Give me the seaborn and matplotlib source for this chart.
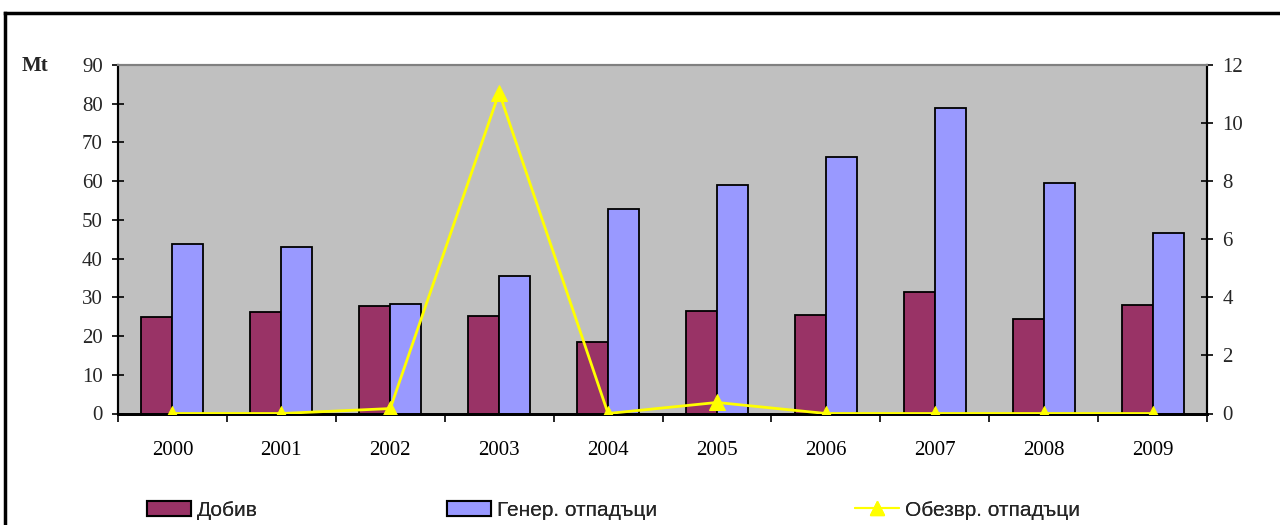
import numpy as np
import pandas as pd
import matplotlib
matplotlib.use("Agg")
import matplotlib.pyplot as plt
from matplotlib.lines import Line2D
import seaborn as sns

# ---------------- data ----------------
years = ["2000", "2001", "2002", "2003", "2004", "2005", "2006", "2007", "2008", "2009"]
dobiv = [24.9, 26.3, 27.8, 25.3, 18.5, 26.4, 25.4, 31.3, 24.5, 27.9]
gener = [43.9, 42.9, 28.3, 35.6, 52.7, 59.1, 66.3, 78.8, 59.6, 46.7]
obezvr = [0.0, 0.0, 0.17, 11.05, 0.0, 0.38, 0.0, 0.0, 0.0, 0.0]
series_names = ["Добив", "Генер. отпадъци", "Обезвр. отпадъци"]
left_ticks = list(range(0, 91, 10))
right_ticks = list(range(0, 13, 2))
unit_label = "Mt"

bar_colors = ["#993366", "#9999FF"]
line_color = "#FFFF00"

df = pd.DataFrame({
    "year": years * 2,
    "value": dobiv + gener,
    "series": [series_names[0]] * len(years) + [series_names[1]] * len(years),
})

sns.set_theme(style="white")
plt.rcParams["font.family"] = ["Liberation Serif", "DejaVu Serif"]

fig = plt.figure(figsize=(12.8, 5.25), dpi=100)
ax = fig.add_axes([118 / 1280, 1 - 413.5 / 525, (1207 - 118) / 1280, (413.5 - 65) / 525])
ax.set_facecolor("#C0C0C0")

sns.barplot(data=df, x="year", y="value", hue="series", order=years,
            hue_order=series_names[:2], palette=bar_colors, width=0.57, gap=0,
            edgecolor="black", linewidth=1.3, saturation=1, ax=ax, legend=False)

ax.set_xlim(-0.5, len(years) - 0.5)
ax.set_ylim(0, 90)
ax.set_yticks(left_ticks)
ax.set_yticklabels([str(t) for t in left_ticks])
ax.set_xlabel("")
ax.set_ylabel("")

# x ticks: marks at category borders, labels at centres
ax.set_xticks(np.arange(-0.5, len(years), 1.0))
ax.set_xticklabels([])
ax.set_xticks(np.arange(len(years)), minor=True)
ax.set_xticklabels(years, minor=True)
ax.tick_params(axis="x", which="major", direction="out", length=6, width=1.2, color="black", bottom=True)
ax.tick_params(axis="x", which="minor", length=0, pad=20, labelsize=15, colors="black", bottom=True)
ax.tick_params(axis="y", which="major", direction="inout", length=8, width=1.2, color="black",
               labelsize=15, pad=7, left=True)

ax2 = ax.twinx()
sns.lineplot(x=np.arange(len(years)), y=obezvr, ax=ax2, color=line_color, linewidth=2,
             marker="^", markersize=11, markeredgecolor=line_color, markerfacecolor=line_color,
             legend=False, zorder=5)
ax2.set_ylim(0, 12)
ax2.set_yticks(right_ticks)
ax2.set_yticklabels([str(t) for t in right_ticks])
ax2.tick_params(axis="y", which="major", direction="inout", length=8, width=1.2, color="black",
                labelsize=15, pad=7, right=True)
ax2.set_ylabel("")
ax2.grid(False)
ax.grid(False)

for a in (ax, ax2):
    a.spines["left"].set_color("black")
    a.spines["left"].set_linewidth(1.5)
    a.spines["right"].set_color("black")
    a.spines["right"].set_linewidth(1.5)
    a.spines["bottom"].set_color("black")
    a.spines["bottom"].set_linewidth(2)
    a.spines["top"].set_color("#808080")
    a.spines["top"].set_linewidth(1.5)

fig.text(35 / 1280, 1 - 66 / 525, unit_label, ha="center", va="center",
         fontsize=15, fontweight="bold", family=["Liberation Serif"])

# legends
bars = ax.patches
h1 = plt.Rectangle((0, 0), 1, 1, facecolor=bar_colors[0], edgecolor="black", linewidth=1.5)
h2 = plt.Rectangle((0, 0), 1, 1, facecolor=bar_colors[1], edgecolor="black", linewidth=1.5)
h3 = Line2D([], [], color=line_color, linewidth=1.5, marker="^", markersize=10,
            markerfacecolor=line_color, markeredgecolor=line_color)
leg_x = [147, 447, 855]
handles = [h1, h2, h3]
for hx, hnd, name in zip(leg_x, handles, series_names):
    lg = fig.legend([hnd], [name], loc="center left",
                    bbox_to_anchor=(hx / 1280, 1 - 510 / 525), frameon=False,
                    borderpad=0, borderaxespad=0, handlelength=2.1, handleheight=0.7,
                    handletextpad=0.3, numpoints=1,
                    prop={"family": ["Liberation Sans", "DejaVu Sans"], "size": 15})
    fig.add_artist(lg)

# outer frame (top and left visible)
fig.add_artist(Line2D([5 / 1280, 5 / 1280], [0, 1 - 13 / 525], transform=fig.transFigure,
                      color="black", linewidth=2.5, solid_capstyle="projecting"))
fig.add_artist(Line2D([5 / 1280, 1], [1 - 13 / 525, 1 - 13 / 525], transform=fig.transFigure,
                      color="black", linewidth=2.5, solid_capstyle="projecting"))

fig.savefig("out.png", dpi=100)
